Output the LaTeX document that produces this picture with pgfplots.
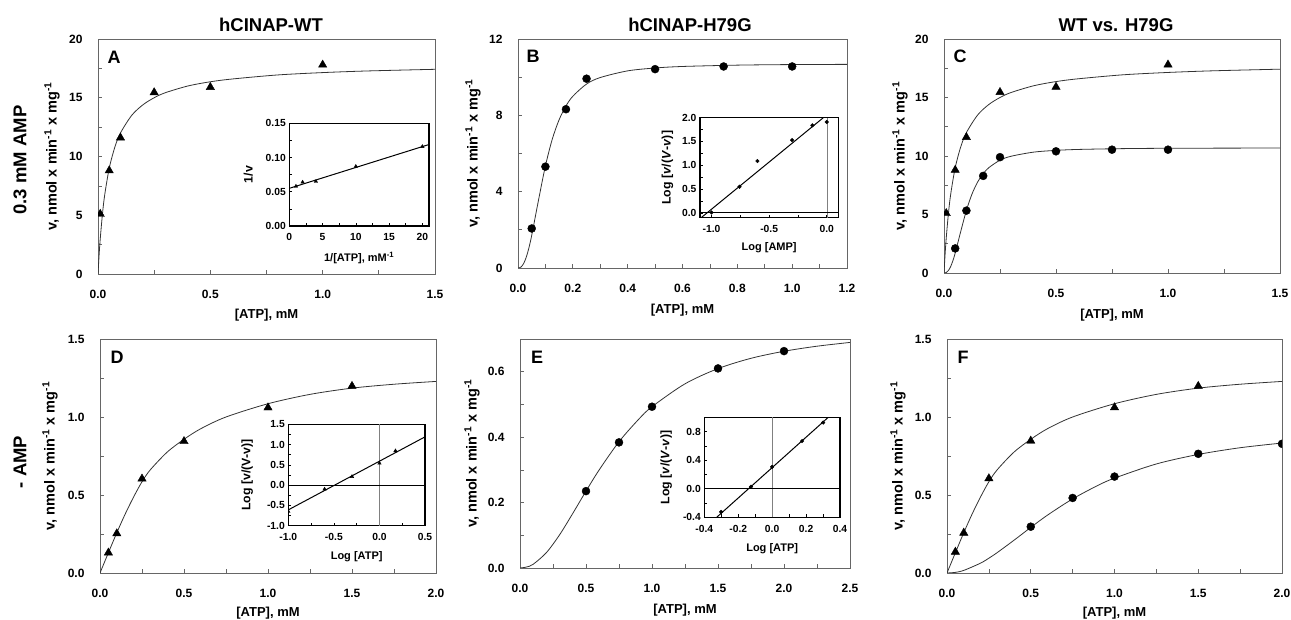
\documentclass[border=0pt]{standalone}
\usepackage{fontspec}
\setmainfont{Liberation Sans}
\usepackage{pgfplots}
\pgfplotsset{compat=1.18}

\newcommand\tk{\fontsize{12}{14}\selectfont\bfseries}
\newcommand\lb{\fontsize{13}{15}\selectfont\bfseries}
\newcommand\ylb{\fontsize{14.5}{17}\selectfont\bfseries}
\newcommand\itk{\fontsize{10.3}{12}\selectfont\bfseries}
\newcommand\ixl{\fontsize{11}{13}\selectfont\bfseries}
\newcommand\iyl{\fontsize{12.3}{14}\selectfont\bfseries}
\newcommand\ttl{\fontsize{18.5}{22}\selectfont\bfseries}
\newcommand\letr{\fontsize{18}{22}\selectfont\bfseries}
\newcommand\vlab{v, nmol x min\textsuperscript{-1} x mg\textsuperscript{-1}}

\pgfplotsset{
  kin/.style={
    scale only axis, anchor=south west,
    axis line style={draw=black!60, line width=0.7pt},
    tick align=inside, tick pos=left,
    major tick length=4pt, minor tick length=3.5pt, minor tick num=1,
    every tick/.style={black!60, line width=0.7pt},
    tick label style={font=\tk},
    xticklabel style={yshift=-13pt},
    yticklabel style={xshift=-12pt},
    xlabel style={font=\lb}, ylabel style={font=\ylb},
    xlabel={[ATP], mM}, ylabel={\vlab},
    clip marker paths=true,
  },
  ins/.style={
    scale only axis, anchor=south west,
    axis line style={line width=1.2pt},
    tick align=inside, tick pos=left,
    major tick length=3pt, minor tick length=3pt, minor tick num=1,
    every tick/.style={black, line width=0.6pt},
    tick label style={font=\itk},
    xticklabel style={yshift=-4pt},
    xlabel style={font=\ixl}, ylabel style={font=\iyl},
    axis background/.style={fill=white},
    clip marker paths=true,
  },
  tri/.style={only marks, mark=triangle*, mark size=4.8pt, black},
  dot/.style={only marks, mark=*, mark size=4pt, black},
  stri/.style={only marks, mark=triangle*, mark size=2pt, black},
  sdot/.style={only marks, mark=*, mark size=1.8pt, black},
  fit/.style={smooth, black!80, line width=0.8pt, no marks},
  reg/.style={black, line width=1pt, no marks},
}

\begin{document}
\begin{tikzpicture}[x=1pt,y=1pt]
\useasboundingbox (0,0) rectangle (1291,620);

% ---------- A ----------
\begin{axis}[kin, at={(98pt,346pt)}, width=337pt, height=235pt,
  xmin=0, xmax=1.5, ymin=0, ymax=20,
  xtick={0,0.5,1,1.5}, xticklabels={0.0,0.5,1.0,1.5},
  ytick={0,5,10,15,20}, yticklabels={0,5,10,15,20},
  xlabel style={at={(axis description cs:0.5,-0.1745)}, anchor=center},
  ylabel style={at={(axis description cs:-0.1365,0.5)}, anchor=center}]
\addplot[fit] coordinates {(0,0)(0.005,1.64)(0.01,3.0)(0.02,5.14)(0.03,6.75)(0.05,9.0)(0.075,10.8)(0.1,12.0)(0.15,13.5)(0.2,14.4)(0.25,15.0)(0.3,15.43)(0.4,16.0)(0.5,16.36)(0.6,16.6)(0.8,16.94)(1.0,17.14)(1.2,17.28)(1.5,17.42)};
\addplot[tri] coordinates {(0.01,5.1)(0.05,8.8)(0.1,11.6)(0.25,15.45)(0.5,15.9)(1.0,17.8)};
\end{axis}
\begin{axis}[ins, at={(289.3pt,394pt)}, width=139.7pt, height=102.7pt,
  xmin=0, xmax=21, ymin=0, ymax=0.15,
  xtick={0,5,10,15,20}, xticklabels={0,5,10,15,20},
  ytick={0,0.05,0.1,0.15}, yticklabels={0.00,0.05,0.10,0.15},
  xlabel={1/[ATP], mM\textsuperscript{-1}}, ylabel={1/v},
  xlabel style={at={(axis description cs:0.5,-0.312)}, anchor=center},
  ylabel style={at={(axis description cs:-0.293,0.5)}, anchor=center}]
\addplot[reg] coordinates {(0,0.055)(21,0.119)};
\addplot[stri] coordinates {(1,0.058)(2,0.064)(4,0.065)(10,0.087)(20,0.116)};
\end{axis}

% ---------- B ----------
\begin{axis}[kin, at={(518pt,352pt)}, width=329pt, height=229pt,
  xmin=0, xmax=1.2, ymin=0, ymax=12,
  xtick={0,0.2,0.4,0.6,0.8,1.0,1.2}, xticklabels={0.0,0.2,0.4,0.6,0.8,1.0,1.2},
  ytick={0,4,8,12}, yticklabels={0,4,8,12},
  xlabel style={at={(axis description cs:0.5,-0.183)}, anchor=center},
  ylabel style={at={(axis description cs:-0.137,0.5)}, anchor=center}]
\addplot[fit] coordinates {(0,0)(0.01,0.04)(0.02,0.22)(0.03,0.56)(0.04,1.07)(0.05,1.71)(0.075,3.57)(0.1,5.35)(0.125,6.75)(0.15,7.77)(0.175,8.49)(0.2,9.0)(0.25,9.64)(0.3,9.98)(0.4,10.33)(0.5,10.48)(0.6,10.56)(0.8,10.63)(1.0,10.66)(1.2,10.67)};
\addplot[dot] coordinates {(0.05,2.07)(0.1,5.31)(0.175,8.32)(0.25,9.92)(0.5,10.42)(0.75,10.56)(1.0,10.56)};
\end{axis}
\begin{axis}[ins, at={(700pt,402.3pt)}, width=138.3pt, height=100pt,
  xmin=-1.1, xmax=0.1, ymin=-0.1, ymax=2.0,
  xtick={-1,-0.5,0}, xticklabels={-1.0,-0.5,0.0},
  ytick={0,0.5,1,1.5,2}, yticklabels={0.0,0.5,1.0,1.5,2.0},
  xlabel={Log [AMP]}, ylabel={Log [\textit{v}/(\textit{V}-\textit{v})]},
  xlabel style={at={(axis description cs:0.5,-0.3)}, anchor=center},
  ylabel style={at={(axis description cs:-0.235,0.5)}, anchor=center}]
\addplot[gray, line width=0.5pt, no marks] coordinates {(0,-0.1)(0,2.0)};
\addplot[reg] coordinates {(-1.1,0)(0.1,0)};
\addplot[reg] coordinates {(-1.09,-0.1)(-0.03,2.0)};
\addplot[sdot] coordinates {(-1.0,0.01)(-0.757,0.55)(-0.602,1.09)(-0.301,1.53)(-0.125,1.84)(0,1.91)};
\end{axis}

% ---------- C ----------
\begin{axis}[kin, at={(944pt,347pt)}, width=336pt, height=234pt,
  xmin=0, xmax=1.5, ymin=0, ymax=20,
  xtick={0,0.5,1,1.5}, xticklabels={0.0,0.5,1.0,1.5},
  ytick={0,5,10,15,20}, yticklabels={0,5,10,15,20},
  xlabel style={at={(axis description cs:0.5,-0.18)}, anchor=center},
  ylabel style={at={(axis description cs:-0.131,0.5)}, anchor=center}]
\addplot[fit] coordinates {(0,0)(0.005,1.64)(0.01,3.0)(0.02,5.14)(0.03,6.75)(0.05,9.0)(0.075,10.8)(0.1,12.0)(0.15,13.5)(0.2,14.4)(0.25,15.0)(0.3,15.43)(0.4,16.0)(0.5,16.36)(0.6,16.6)(0.8,16.94)(1.0,17.14)(1.2,17.28)(1.5,17.42)};
\addplot[fit] coordinates {(0,0)(0.01,0.04)(0.02,0.22)(0.03,0.56)(0.04,1.07)(0.05,1.71)(0.075,3.57)(0.1,5.35)(0.125,6.75)(0.15,7.77)(0.175,8.49)(0.2,9.0)(0.25,9.64)(0.3,9.98)(0.4,10.33)(0.5,10.48)(0.6,10.56)(0.8,10.63)(1.0,10.66)(1.2,10.67)(1.5,10.68)};
\addplot[tri] coordinates {(0.01,5.1)(0.05,8.8)(0.1,11.6)(0.25,15.45)(0.5,15.9)(1.0,17.8)};
\addplot[dot] coordinates {(0.05,2.1)(0.1,5.33)(0.175,8.3)(0.25,9.9)(0.5,10.4)(0.75,10.54)(1.0,10.54)};
\end{axis}

% ---------- D ----------
\begin{axis}[kin, at={(100pt,47pt)}, width=336pt, height=234pt,
  xmin=0, xmax=2, ymin=0, ymax=1.5,
  xtick={0,0.5,1,1.5,2}, xticklabels={0.0,0.5,1.0,1.5,2.0},
  ytick={0,0.5,1,1.5}, yticklabels={0.0,0.5,1.0,1.5},
  xlabel style={at={(axis description cs:0.5,-0.171)}, anchor=center},
  ylabel style={at={(axis description cs:-0.149,0.5)}, anchor=center}]
\addplot[fit] coordinates {(0,0)(0.05,0.13)(0.1,0.258)(0.15,0.378)(0.2,0.487)(0.25,0.585)(0.3,0.662)(0.4,0.775)(0.5,0.857)(0.6,0.925)(0.75,1.0)(1.0,1.085)(1.25,1.145)(1.5,1.185)(1.75,1.21)(2.0,1.228)};
\addplot[tri] coordinates {(0.05,0.13)(0.1,0.253)(0.25,0.604)(0.5,0.844)(1.0,1.06)(1.5,1.198)};
\end{axis}
\begin{axis}[ins, at={(288.3pt,94.3pt)}, width=136.7pt, height=101.4pt,
  xmin=-1, xmax=0.5, ymin=-1, ymax=1.5,
  xtick={-1,-0.5,0,0.5}, xticklabels={-1.0,-0.5,0.0,0.5},
  ytick={-1,-0.5,0,0.5,1,1.5}, yticklabels={-1.0,-0.5,0.0,0.5,1.0,1.5},
  xlabel={Log [ATP]}, ylabel={Log [v/(V-v)]},
  xlabel style={at={(axis description cs:0.5,-0.306)}, anchor=center},
  ylabel style={at={(axis description cs:-0.3,0.5)}, anchor=center}]
\addplot[gray, line width=0.5pt, no marks] coordinates {(0,-1)(0,1.5)};
\addplot[reg] coordinates {(-1,0)(0.5,0)};
\addplot[reg] coordinates {(-1.0,-0.61)(0.5,1.19)};
\addplot[stri] coordinates {(-1.0,-0.65)(-0.602,-0.10)(-0.301,0.21)(0,0.54)(0.176,0.845)};
\end{axis}

% ---------- E ----------
\begin{axis}[kin, at={(520pt,52pt)}, width=330pt, height=229pt,
  xmin=0, xmax=2.5, ymin=0, ymax=0.7,
  xtick={0,0.5,1,1.5,2,2.5}, xticklabels={0.0,0.5,1.0,1.5,2.0,2.5},
  ytick={0,0.2,0.4,0.6}, yticklabels={0.0,0.2,0.4,0.6},
  xlabel style={at={(axis description cs:0.5,-0.183)}, anchor=center},
  ylabel style={at={(axis description cs:-0.145,0.5)}, anchor=center}]
\addplot[fit] coordinates {(0,0)(0.05,0.003)(0.1,0.0115)(0.2,0.047)(0.3,0.1015)(0.4,0.167)(0.5,0.235)(0.6,0.300)(0.75,0.386)(0.9,0.455)(1.0,0.493)(1.25,0.563)(1.5,0.6095)(1.75,0.641)(2.0,0.6625)(2.25,0.678)(2.5,0.6895)};
\addplot[dot] coordinates {(0.5,0.235)(0.75,0.384)(1.0,0.493)(1.5,0.61)(2.0,0.663)};
\end{axis}
\begin{axis}[ins, at={(704.3pt,102.7pt)}, width=135.7pt, height=100pt,
  xmin=-0.4, xmax=0.4, ymin=-0.4, ymax=1.0,
  xtick={-0.4,-0.2,0,0.2,0.4}, xticklabels={-0.4,-0.2,0.0,0.2,0.4},
  ytick={-0.4,0,0.4,0.8}, yticklabels={-0.4,0.0,0.4,0.8},
  xlabel={Log [ATP]}, ylabel={Log [\textit{v}/(\textit{V}-\textit{v})]},
  xlabel style={at={(axis description cs:0.5,-0.31)}, anchor=center},
  ylabel style={at={(axis description cs:-0.28,0.5)}, anchor=center}]
\addplot[gray, line width=0.5pt, no marks] coordinates {(0,-0.4)(0,1.0)};
\addplot[reg] coordinates {(-0.4,0)(0.4,0)};
\addplot[reg] coordinates {(-0.327,-0.4)(0.331,1.0)};
\addplot[sdot] coordinates {(-0.301,-0.324)(-0.125,0.028)(0,0.306)(0.176,0.667)(0.301,0.926)};
\end{axis}

% ---------- F ----------
\begin{axis}[kin, at={(947pt,47pt)}, width=335pt, height=234pt,
  xmin=0, xmax=2, ymin=0, ymax=1.5,
  xtick={0,0.5,1,1.5,2}, xticklabels={0.0,0.5,1.0,1.5,2.0},
  ytick={0,0.5,1,1.5}, yticklabels={0.0,0.5,1.0,1.5},
  xlabel style={at={(axis description cs:0.5,-0.171)}, anchor=center},
  ylabel style={at={(axis description cs:-0.146,0.5)}, anchor=center}]
\addplot[fit] coordinates {(0,0)(0.05,0.13)(0.1,0.258)(0.15,0.378)(0.2,0.487)(0.25,0.585)(0.3,0.662)(0.4,0.775)(0.5,0.857)(0.6,0.925)(0.75,1.0)(1.0,1.085)(1.25,1.145)(1.5,1.185)(1.75,1.21)(2.0,1.228)};
\addplot[fit] coordinates {(0,0)(0.05,0.004)(0.1,0.0166)(0.2,0.063)(0.25,0.095)(0.3,0.131)(0.4,0.210)(0.5,0.292)(0.6,0.371)(0.75,0.475)(0.9,0.561)(1.0,0.608)(1.25,0.699)(1.5,0.76)(1.75,0.803)(2.0,0.833)};
\addplot[tri] coordinates {(0.05,0.135)(0.1,0.257)(0.25,0.606)(0.5,0.847)(1.0,1.061)(1.5,1.198)};
\addplot[dot] coordinates {(0.5,0.297)(0.75,0.481)(1.0,0.618)(1.5,0.764)(2.0,0.828)};
\end{axis}

% titles, row labels, panel letters
\node[font=\ttl] at (271,595) {hCINAP-WT};
\node[font=\ttl] at (690,595) {hCINAP-H79G};
\node[font=\ttl] at (1116,595) {WT vs. H79G};
\node[font=\ttl, rotate=90] at (20,460) {0.3 mM AMP};
\node[font=\ttl, rotate=90] at (20,158) {- AMP};
\node[font=\letr] at (114,563) {A};
\node[font=\letr] at (533,564) {B};
\node[font=\letr] at (960,564) {C};
\node[font=\letr] at (117,263) {D};
\node[font=\letr] at (537,263) {E};
\node[font=\letr] at (963,263) {F};
\end{tikzpicture}
\end{document}
